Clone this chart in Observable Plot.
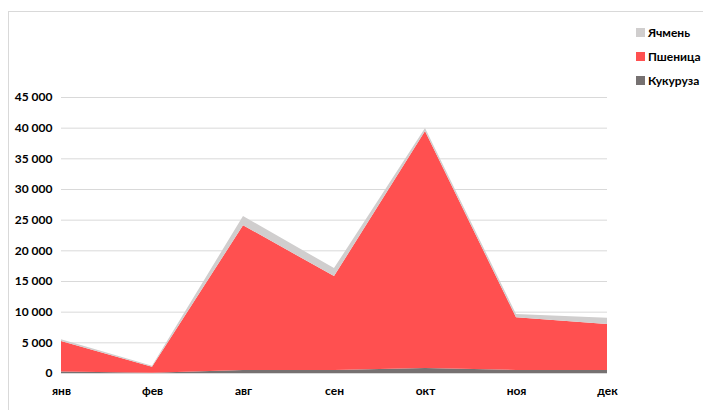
<!DOCTYPE html>
<html>
<head>
<meta charset="utf-8">
<script src="https://cdn.jsdelivr.net/npm/d3@7"></script>
<script src="https://cdn.jsdelivr.net/npm/@observablehq/plot@0.6"></script>
<style>
  html, body { margin: 0; padding: 0; background: #fff; }
  #wrap { position: relative; width: 703px; height: 410px; overflow: hidden; font-family: Lato, "Open Sans", sans-serif; }
  #frame { position: absolute; left: 8px; top: 11px; width: 720px; height: 420px; border-left: 1px solid #d9d9d9; border-top: 1px solid #d9d9d9; }
  #chart { position: absolute; left: 0; top: 0; }
  #legend { position: absolute; left: 636px; top: 20px; font-size: 12px; font-weight: bold; color: #000; }
  .li { display: flex; align-items: center; height: 24px; }
  .sw { width: 9px; height: 9px; margin-right: 3px; }
</style>
</head>
<body>
<div id="wrap">
  <div id="frame"></div>
  <div id="chart"></div>
  <div id="legend"></div>
</div>
<script>
const months = ["янв", "фев", "авг", "сен", "окт", "ноя", "дек"];
const crops = ["Кукуруза", "Пшеница", "Ячмень"];
const corn   = [250, 50, 500, 500, 800, 500, 500];
const wheat  = [4950, 950, 23600, 15300, 38650, 8600, 7500];
const barley = [300, 200, 1500, 1300, 500, 500, 1000];
const colors = ["#767171", "#ff5050", "#d0cece"];
const yTicks = [0, 5000, 10000, 15000, 20000, 25000, 30000, 35000, 40000, 45000];

const series = [corn, wheat, barley];
const data = [];
crops.forEach((c, i) => months.forEach((m, j) => data.push({month: m, crop: c, value: series[i][j]})));

const fmt = v => d3.format(",")(v).replace(/,/g, " ");

const chart = Plot.plot({
  width: 703,
  height: 410,
  marginLeft: 61,
  marginRight: 96,
  marginTop: 97,
  marginBottom: 37,
  style: {fontFamily: "Lato, 'Open Sans', sans-serif", fontSize: "12px", fontWeight: "bold", color: "#000", background: "transparent"},
  x: {type: "point", domain: months, padding: 0, label: null},
  y: {domain: [0, 45000], label: null},
  color: {domain: crops, range: colors},
  marks: [
    Plot.ruleY(yTicks.filter(d => d > 0), {stroke: "#d9d9d9", strokeWidth: 1}),
    Plot.areaY(data, Plot.stackY({x: "month", y: "value", z: "crop", fill: "crop", order: null})),
    Plot.ruleY([0], {stroke: "#d9d9d9", strokeWidth: 1}),
    Plot.axisY(yTicks, {tickSize: 0, tickPadding: 9, tickFormat: fmt, fill: "#000", fontWeight: "bold", fontSize: 12, label: null}),
    Plot.axisX(months, {tickSize: 0, tickPadding: 13, fill: "#000", fontWeight: "bold", fontSize: 12, label: null})
  ]
});
document.getElementById("chart").appendChild(chart);

const legend = document.getElementById("legend");
[...crops].reverse().forEach(c => {
  const row = document.createElement("div");
  row.className = "li";
  const sw = document.createElement("div");
  sw.className = "sw";
  sw.style.background = colors[crops.indexOf(c)];
  const t = document.createElement("span");
  t.textContent = c;
  row.appendChild(sw); row.appendChild(t);
  legend.appendChild(row);
});
</script>
</body>
</html>
